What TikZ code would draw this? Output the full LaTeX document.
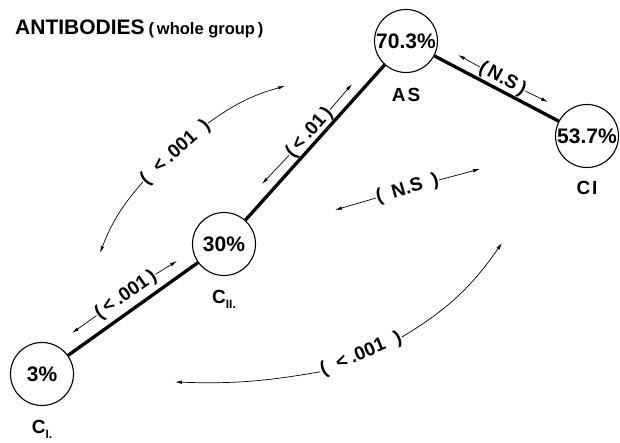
\documentclass[tikz,border=0pt]{standalone}
\usepackage{fontspec}
\setmainfont{Liberation Sans}
\usetikzlibrary{arrows.meta, positioning}

\tikzset{
  gruppe/.style={circle, draw, line width=1.1pt, minimum size=63pt, inner sep=0pt,
    font=\fontsize{21}{21}\selectfont\bfseries},
  gruppenname/.style={inner sep=0pt, font=\fontsize{19}{19}\selectfont\bfseries},
  verbindung/.style={line width=3.3pt},
  wert/.style={inner sep=0.5pt, font=\fontsize{19}{19}\selectfont\bfseries},
  pfeil/.style={line width=0.7pt, -{Latex[length=7pt,width=3.5pt]}},
}
\newcommand{\gruppenindex}[1]{\raisebox{-0.45ex}{\fontsize{12}{12}\selectfont #1}}

\begin{document}
\begin{tikzpicture}[x=1pt, y=1pt]

    % 0. Rahmen
    \useasboundingbox (0,0) rectangle (620,442);

    % 1. Titel
    \node[anchor=base west, inner sep=0pt] (titel) at (15,407)
      {\fontsize{21}{21}\selectfont\bfseries ANTIBODIES\hspace{4pt}{\fontsize{16.5}{16.5}\selectfont(\,whole group\,)}};

    % 2. Gruppen (Kreise)
    \node[gruppe] (as) at (406,401) {70.3\%};
    \node[gruppe] (ci) at (587,306) {53.7\%};
    \node[gruppe] (c2) at (224,198) {30\%};
    \node[gruppe] (c1) at (42,68) {3\%};

    % 3. Namen der Gruppen
    \node[gruppenname, below=15pt of as] (asn) {A\kern2pt S};
    \node[gruppenname, below=13pt of ci] (cin) {C\kern2pt I};
    \node[gruppenname, below=14pt of c2] (c2n) {C\gruppenindex{II.}};
    \node[gruppenname, below=14pt of c1] (c1n) {C\gruppenindex{I.}};

    % 4. Verbindungen (dick)
    \draw[verbindung] (c1) -- (c2);
    \draw[verbindung] (c2) -- (as);
    \draw[verbindung] (as) -- (ci);

    % 5. Signifikanzen entlang der Verbindungen
    \node[wert, rotate=35] (w12) at (126,147) {(\hspace{3pt}<\hspace{4pt}.001\hspace{3pt})};
    \coordinate (w12a) at (72,109);
    \coordinate (w12b) at (177,181);
    \draw[pfeil] (w12.west) -- (w12a);
    \draw[pfeil] (w12.east) -- (w12b);

    \node[wert, rotate=48] (w2s) at (309.5,309.5) {(\hspace{3pt}<\hspace{4pt}.01\hspace{3pt})};
    \coordinate (w2sa) at (262,258);
    \coordinate (w2sb) at (352,358);
    \draw[pfeil] (w2s.west) -- (w2sa);
    \draw[pfeil] (w2s.east) -- (w2sb);

    \node[wert, rotate=-28] (wsi) at (502.5,363) {(\hspace{3pt}N.S\hspace{3pt})};
    \coordinate (wsia) at (458,387);
    \coordinate (wsib) at (548,340);
    \draw[pfeil] (wsi.west) -- (wsia);
    \draw[pfeil] (wsi.east) -- (wsib);

    % 6. Vergleiche ueber Kreuz (gebogen)
    \node[wert, rotate=42] (w1s) at (175.5,289.5) {(\hspace{11pt}<\hspace{4pt}.001\hspace{11pt})};
    \coordinate (w1sa) at (100,189);
    \coordinate (w1sb) at (285,356);
    \draw[pfeil] (w1s.west) to[bend right=10] (w1sa);
    \draw[pfeil] (w1s.east) to[bend left=10] (w1sb);

    \node[wert, rotate=16] (w2i) at (407.5,253) {(\hspace{10pt}N.S\hspace{10pt})};
    \coordinate (w2ia) at (335,232);
    \coordinate (w2ib) at (480,273);
    \draw[pfeil] (w2i.west) -- (w2ia);
    \draw[pfeil] (w2i.east) -- (w2ib);

    \node[wert, rotate=23] (w1i) at (361,87.5) {(\hspace{11pt}<\hspace{4pt}.001\hspace{11pt})};
    \coordinate (w1ia) at (175,60);
    \coordinate (w1ib) at (502,199);
    \draw[pfeil] (w1i.west) to[bend left=6] (w1ia);
    \draw[pfeil] (w1i.east) to[bend right=12] (w1ib);

\end{tikzpicture}
\end{document}
